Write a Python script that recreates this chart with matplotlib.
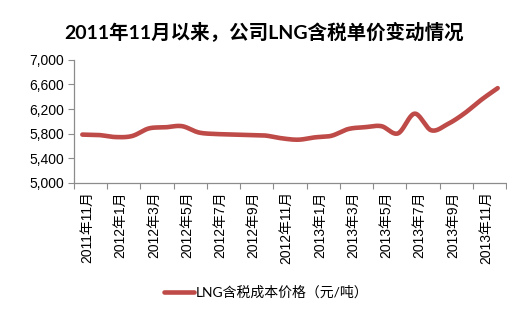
import numpy as np
import matplotlib
matplotlib.use('Agg')
import matplotlib.pyplot as plt

# monthly LNG price, 2011-11 .. 2013-12
months = ['2011年11月', '2011年12月',
          '2012年1月', '2012年2月', '2012年3月', '2012年4月', '2012年5月', '2012年6月',
          '2012年7月', '2012年8月', '2012年9月', '2012年10月', '2012年11月', '2012年12月',
          '2013年1月', '2013年2月', '2013年3月', '2013年4月', '2013年5月', '2013年6月',
          '2013年7月', '2013年8月', '2013年9月', '2013年10月', '2013年11月', '2013年12月']
price = [5785, 5778, 5745, 5762, 5885, 5903, 5922, 5820, 5795, 5788,
         5778, 5770, 5725, 5702, 5740, 5766, 5875, 5905, 5922, 5805,
         6125, 5855, 5957, 6130, 6348, 6540]
series_name = 'LNG含税成本价格（元/吨）'
title = '2011年11月以来，公司LNG含税单价变动情况'
yticks = [5000, 5400, 5800, 6200, 6600, 7000]

LINE_COLOR = '#BE4B48'
TICK_FONT = ['Liberation Sans', 'Noto Sans CJK SC']
TEXT_FONT = ['Lato', 'Noto Sans CJK SC']


def smooth(x, y, n=20):
    # catmull-rom through the points, like excel's smoothed line
    x = np.asarray(x, float)
    y = np.asarray(y, float)
    px = np.concatenate([[2 * x[0] - x[1]], x, [2 * x[-1] - x[-2]]])
    py = np.concatenate([[2 * y[0] - y[1]], y, [2 * y[-1] - y[-2]]])
    xs, ys = [], []
    t = np.linspace(0, 1, n, endpoint=False)
    for i in range(1, len(px) - 2):
        for p, out in ((px, xs), (py, ys)):
            p0, p1, p2, p3 = p[i - 1], p[i], p[i + 1], p[i + 2]
            out.extend(0.5 * (2 * p1 + (-p0 + p2) * t
                              + (2 * p0 - 5 * p1 + 4 * p2 - p3) * t ** 2
                              + (-p0 + 3 * p1 - 3 * p2 + p3) * t ** 3))
    xs.append(x[-1])
    ys.append(y[-1])
    return np.array(xs), np.array(ys)


fig = plt.figure(figsize=(5.07, 3.10), dpi=100)
ax = fig.add_axes([0.146, 0.41, 0.852, 0.397])

idx = np.arange(len(price))
sx, sy = smooth(idx, price)
line, = ax.plot(sx, sy, color=LINE_COLOR, lw=3.3, solid_capstyle='round')

ax.set_xlim(-0.5, len(price) - 0.5)
ax.set_ylim(5000, 7000)
ax.set_yticks(yticks)
ax.set_yticklabels(['{:,}'.format(v) for v in yticks], family=TICK_FONT, fontsize=10)

# ticks between every second category, labels every second month
ax.set_xticks(np.arange(-0.5, len(price), 2))
ax.set_xticklabels([])
ax.set_xticks(idx[::2] + 0.3, minor=True)
ax.set_xticklabels([months[i] for i in idx[::2]], minor=True, rotation=90,
                   family=TICK_FONT, fontsize=10)
ax.tick_params(axis='x', which='minor', length=0, pad=6)
ax.tick_params(axis='x', which='major', length=4, color='#8c8c8c')
ax.tick_params(axis='y', length=4, color='#8c8c8c', pad=3)

for s in ('top', 'right'):
    ax.spines[s].set_visible(False)
for s in ('left', 'bottom'):
    ax.spines[s].set_color('#8c8c8c')
    ax.spines[s].set_linewidth(0.9)

fig.text(0.52, 0.90, title, ha='center', va='center', family=TEXT_FONT,
         fontsize=14, fontweight='bold')

fig.legend([line], [series_name], loc='center', bbox_to_anchor=(0.525, 0.058),
           frameon=False, handlelength=2.2, handletextpad=0.1,
           prop={'family': TEXT_FONT, 'size': 10})

fig.savefig('out.png', dpi=100)
